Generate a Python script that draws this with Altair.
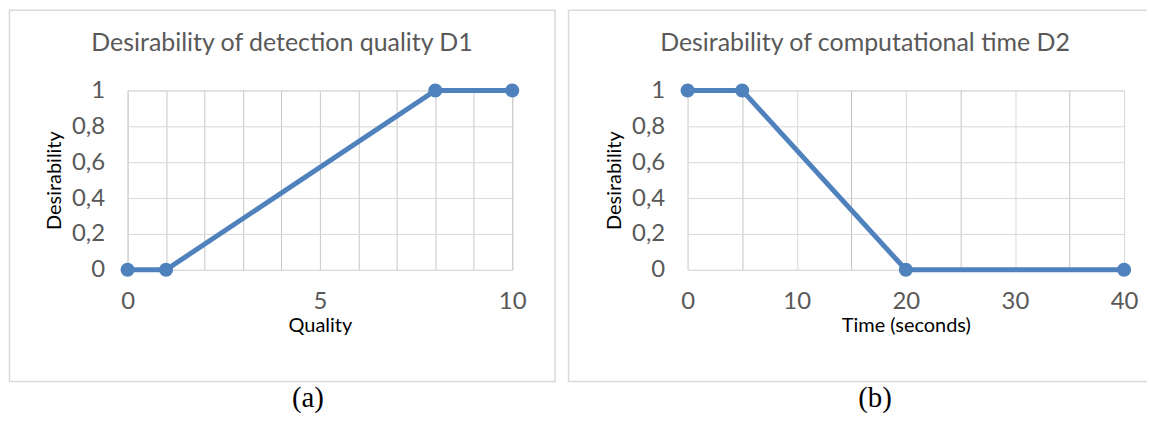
import altair as alt
import pandas as pd

# ---- data ----
quality = [0, 1, 8, 10]
desir_quality = [0, 0, 1, 1]
time_sec = [0, 5, 20, 40]
desir_time = [1, 1, 0, 0]

y_ticks = [0, 0.2, 0.4, 0.6, 0.8, 1]
quality_grid = [0, 1, 2, 3, 4, 5, 6, 7, 8, 9, 10]
time_grid = [0, 5, 10, 15, 20, 25, 30, 35, 40]

title_a = "Desirability of detection quality D1"
title_b = "Desirability of computational time D2"
xtitle_a = "Quality"
xtitle_b = "Time (seconds)"
ytitle = "Desirability"
tag_a = "(a)"
tag_b = "(b)"

LINE = "#4F81BD"
FONT = "Lato"
GRAY_TXT = "#595959"
PLOT_H = 180


def panel(xs, ys, xgrid, label_step, width, xtitle, title, title_cx, tag, tag_cx,
          box_left, box_right, grid_color, full_box=True):
    df = pd.DataFrame({"x": xs, "y": ys})
    xaxis = alt.Axis(
        values=xgrid,
        labelExpr=f"datum.value % {label_step} == 0 ? datum.label : ''",
        ticks=False, tickSize=0, domain=False, grid=True,
        gridColor=grid_color, gridWidth=1,
        labelFont=FONT, labelFontSize=24, labelColor=GRAY_TXT,
        labelPadding=20, labelFlush=False, labelOverlap=False,
        title=xtitle, titleFont=FONT, titleFontSize=20, titleFontWeight="normal",
        titleColor="#000000", titleX=width / 2, titleY=56,
        titleBaseline="middle", titleAlign="center",
    )
    yaxis = alt.Axis(
        values=y_ticks,
        labelExpr="replace(format(datum.value, '~g'), '.', ',')",
        ticks=False, tickSize=0, domain=False, grid=True,
        gridColor="#d9d9d9", gridWidth=1,
        labelFont=FONT, labelFontSize=24, labelColor=GRAY_TXT,
        labelPadding=23, labelOverlap=False,
        title=ytitle, titleFont=FONT, titleFontSize=20, titleFontWeight="normal",
        titleColor="#000000", titleX=-73, titleY=PLOT_H / 2,
        titleAngle=270, titleBaseline="middle", titleAlign="center",
    )
    xenc = alt.X("x:Q", scale=alt.Scale(domain=[xgrid[0], xgrid[-1]], nice=False, zero=False),
                 axis=xaxis)
    yenc = alt.Y("y:Q", scale=alt.Scale(domain=[0, 1], nice=False), axis=yaxis)

    base = alt.Chart(df).encode(x=xenc, y=yenc)
    line = base.mark_line(color=LINE, strokeWidth=5)
    pts = base.mark_circle(color=LINE, size=200, opacity=1)

    one = alt.Chart(pd.DataFrame({"k": [0]}))
    if full_box:
        box = one.mark_rect(fill="#ffffff", fillOpacity=0, stroke="#d9d9d9", strokeWidth=1.5).encode(
            x=alt.value(box_left), x2=alt.value(box_right),
            y=alt.value(-80.5), y2=alt.value(292),
        )
        boxes = [box]
    else:
        left = one.mark_rule(color="#d9d9d9", strokeWidth=1.5).encode(
            x=alt.value(box_left), y=alt.value(-80.5), y2=alt.value(292))
        top = one.mark_rule(color="#d9d9d9", strokeWidth=1.5).encode(
            x=alt.value(box_left), x2=alt.value(box_right), y=alt.value(-80.5))
        bottom = one.mark_rule(color="#d9d9d9", strokeWidth=1.5).encode(
            x=alt.value(box_left), x2=alt.value(box_right), y=alt.value(292))
        boxes = [left, top, bottom]

    ttl = one.mark_text(text=title, font=FONT, fontSize=25, color=GRAY_TXT,
                        align="center", baseline="alphabetic").encode(
        x=alt.value(title_cx), y=alt.value(-40))
    tg = one.mark_text(text=tag, font="Liberation Serif", fontSize=29, color="#000000",
                       align="center", baseline="alphabetic").encode(
        x=alt.value(tag_cx), y=alt.value(318))

    return alt.layer(*boxes, line, pts, ttl, tg).properties(width=width, height=PLOT_H)


grid_a = "#c8c8c8"
grid_b = {"condition": {"test": "datum.value % 10 == 5", "value": "#c3c3c3"}, "value": "#d9d9d9"}

pa = panel(quality, desir_quality, quality_grid, 5, 386, xtitle_a, title_a, 155,
           tag_a, 181, -118.5, 429, grid_a, True)
pb = panel(time_sec, desir_time, time_grid, 10, 438, xtitle_b, title_b, 178,
           tag_b, 188, -119.5, 461, grid_b, False)

chart = alt.hconcat(pa, pb, spacing=10, padding=0).configure_view(stroke=None).configure(
    background="#ffffff")

chart.save("out.html", embed_options={"renderer": "svg", "actions": False})
